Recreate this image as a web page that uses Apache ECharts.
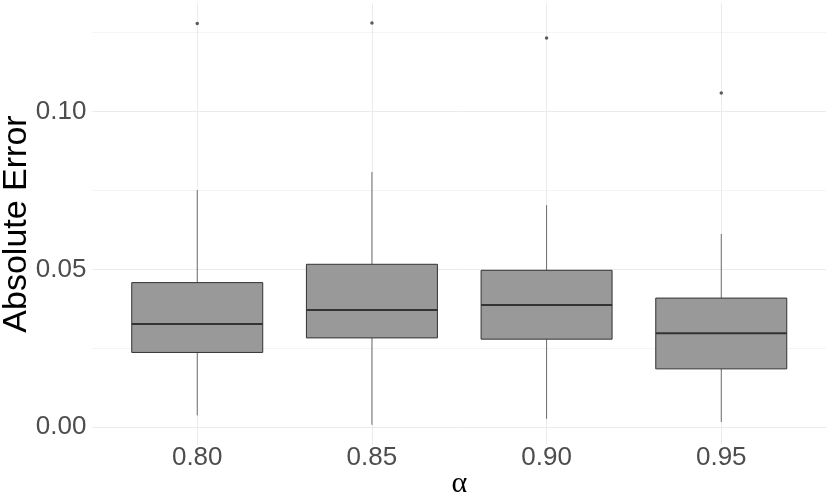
<!DOCTYPE html>
<html>
<head>
<meta charset="utf-8">
<script src="https://cdn.jsdelivr.net/npm/echarts@6/dist/echarts.min.js"></script>
<style>
  html, body { margin: 0; padding: 0; background: #fff; }
  #chart { width: 830px; height: 503px; }
</style>
</head>
<body>
<div id="chart"></div>
<script>
// 数据
var categories = ['0.80', '0.85', '0.90', '0.95']
// [min, Q1, median, Q3, max]
var boxData = [
  [0.0038, 0.0237, 0.0327, 0.0458, 0.0751],
  [0.0008, 0.0283, 0.0371, 0.0516, 0.0808],
  [0.0027, 0.0279, 0.0387, 0.0497, 0.0703],
  [0.0017, 0.0185, 0.0298, 0.0409, 0.0612]
]
var outliers = [
  ['0.80', 0.1278],
  ['0.85', 0.1280],
  ['0.90', 0.1232],
  ['0.95', 0.1058]
]
var majorTicks = [0, 0.05, 0.10]
var minorTicks = [0.025, 0.075, 0.125]
var yMin = -0.0055
var yMax = 0.1342

var myChart = echarts.init(document.getElementById('chart'))
var font = 'Liberation Sans, Arial, sans-serif'

// ggplot 风格的箱线图（无须线端帽）
function renderBox(params, api) {
  var idx = api.value(0)
  var bw = api.size([1, 0])[0] * 0.75
  var pMin = api.coord([idx, api.value(1)])
  var pQ1 = api.coord([idx, api.value(2)])
  var pMed = api.coord([idx, api.value(3)])
  var pQ3 = api.coord([idx, api.value(4)])
  var pMax = api.coord([idx, api.value(5)])
  var cx = pMed[0]
  return {
    type: 'group',
    children: [
      {
        type: 'line',
        shape: { x1: cx, y1: pQ3[1], x2: cx, y2: pMax[1] },
        style: { stroke: '#333333', lineWidth: 0.7 }
      },
      {
        type: 'line',
        shape: { x1: cx, y1: pQ1[1], x2: cx, y2: pMin[1] },
        style: { stroke: '#333333', lineWidth: 0.7 }
      },
      {
        type: 'rect',
        shape: { x: cx - bw / 2, y: pQ3[1], width: bw, height: pQ1[1] - pQ3[1] },
        style: { fill: '#999999', stroke: '#333333', lineWidth: 1 }
      },
      {
        type: 'line',
        shape: { x1: cx - bw / 2, y1: pMed[1], x2: cx + bw / 2, y2: pMed[1] },
        style: { stroke: '#333333', lineWidth: 2 }
      }
    ]
  }
}

var option = {
  animation: false,
  grid: [
    // 整个面板（网格线）
    { left: 92.4, right: 3.9, top: 3.3, bottom: 58.3, outerBoundsMode: 'none' },
    // 箱线图所在区域
    { left: 109.9, right: 21.4, top: 3.3, bottom: 58.3, outerBoundsMode: 'none' }
  ],
  xAxis: [
    {
      gridIndex: 0,
      type: 'value',
      min: 0,
      max: 1,
      name: 'α',
      nameLocation: 'middle',
      nameGap: 24,
      nameMoveOverlap: false,
      nameTextStyle: { color: '#000', fontSize: 30, fontFamily: 'Liberation Serif, serif' },
      axisLine: { show: false },
      axisTick: { show: false },
      axisLabel: { show: false },
      splitLine: { show: false }
    },
    {
      gridIndex: 1,
      type: 'category',
      data: categories,
      axisLine: { show: false },
      axisTick: { show: false, alignWithLabel: true },
      axisLabel: { color: '#4D4D4D', fontSize: 26, fontFamily: font, margin: 0 },
      splitLine: { show: true, alignWithLabel: true, lineStyle: { color: '#EBEBEB', width: 1 } }
    }
  ],
  yAxis: [
    {
      gridIndex: 0,
      type: 'value',
      min: yMin,
      max: yMax,
      name: 'Absolute Error',
      nameLocation: 'middle',
      nameGap: 59,
      nameMoveOverlap: false,
      nameTextStyle: { color: '#000', fontSize: 34, fontFamily: font },
      axisLine: { show: false },
      axisTick: { show: false, customValues: majorTicks },
      axisLabel: {
        customValues: majorTicks,
        color: '#4D4D4D',
        fontSize: 26,
        fontFamily: font,
        margin: 6,
        formatter: function (v) { return v.toFixed(2) }
      },
      splitLine: { show: true, lineStyle: { color: '#EBEBEB', width: 1 } }
    },
    {
      gridIndex: 0,
      type: 'value',
      min: yMin,
      max: yMax,
      axisLine: { show: false },
      axisTick: { show: false, customValues: minorTicks },
      axisLabel: { show: false, customValues: minorTicks },
      splitLine: { show: true, lineStyle: { color: '#F4F4F4', width: 1 } }
    },
    {
      gridIndex: 1,
      type: 'value',
      min: yMin,
      max: yMax,
      show: false,
      splitLine: { show: false }
    }
  ],
  series: [
    {
      type: 'custom',
      xAxisIndex: 1,
      yAxisIndex: 2,
      renderItem: renderBox,
      encode: { x: 0, y: [1, 2, 3, 4, 5] },
      data: boxData.map(function (d, i) { return [i].concat(d) })
    },
    {
      type: 'scatter',
      xAxisIndex: 1,
      yAxisIndex: 2,
      data: outliers,
      symbol: 'circle',
      symbolSize: 3.5,
      itemStyle: { color: '#333333' }
    }
  ]
}
myChart.setOption(option)
</script>
</body>
</html>
